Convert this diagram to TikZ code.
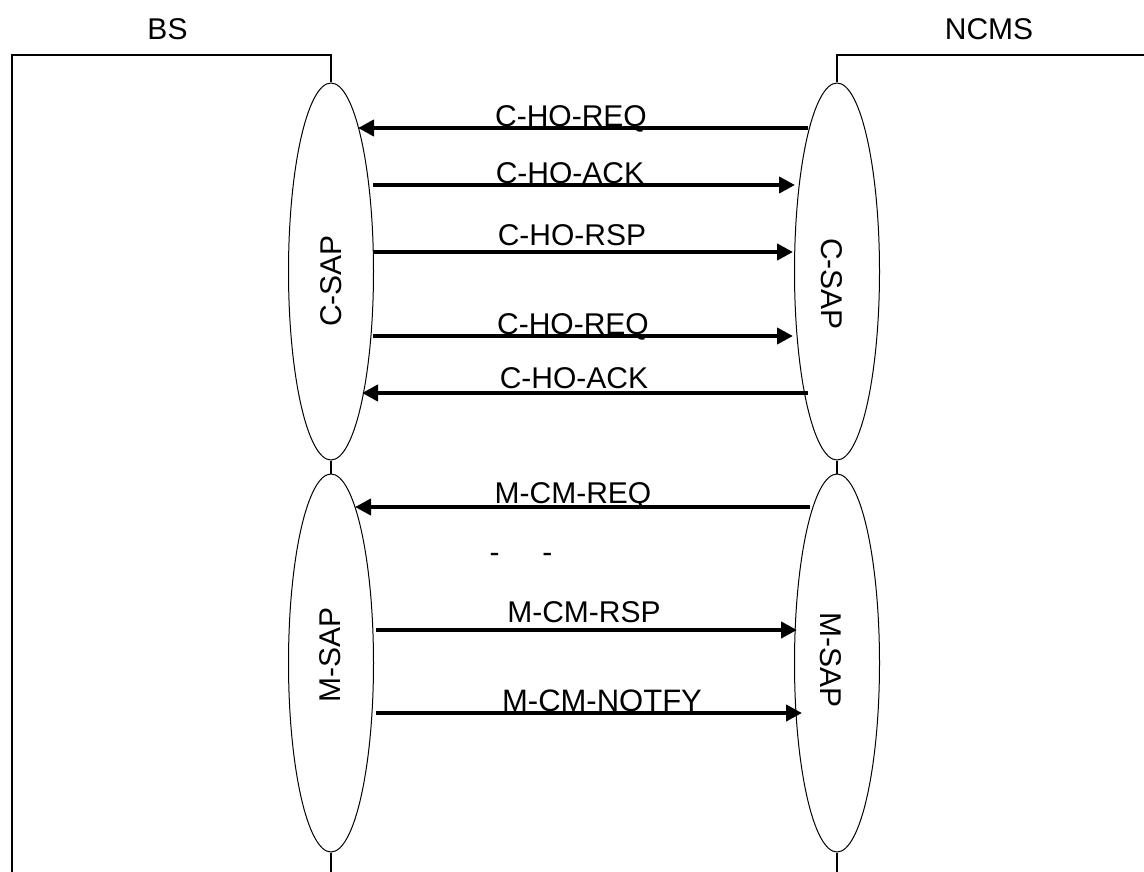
\documentclass[tikz,border=0pt]{standalone}
\usepackage{fontspec}
\setmainfont{Liberation Sans}
\usetikzlibrary{shapes.geometric,arrows.meta}
\begin{document}
\begin{tikzpicture}[x=1pt,y=-1pt,
  sap/.style={ellipse,draw,line width=1pt,minimum width=85pt,minimum height=377pt,inner sep=0pt},
  frame/.style={line width=1.3pt},
  msg/.style={line width=4pt,-{Triangle[length=16pt,width=16pt]}},
  lbl/.style={font=\fontsize{30}{36}\selectfont,inner sep=0pt,anchor=base},
  saplbl/.style={font=\fontsize{30}{36}\selectfont,inner sep=0pt},
  title/.style={font=\fontsize{30}{36}\selectfont,inner sep=0pt}]
\useasboundingbox (0,0) rectangle (1144,872);
% SAP ellipses
\node[sap] (cL) at (331,271.5) {};
\node[sap] (cR) at (837,271.5) {};
\node[sap,minimum height=378pt] (mL) at (331,663) {};
\node[sap,minimum height=378pt] (mR) at (837,663) {};
% rotated SAP labels
\node[saplbl,rotate=90] (cLt) at (331,281) {C-SAP};
\node[saplbl,rotate=-90] (cRt) at (832,284) {C-SAP};
\node[saplbl,rotate=90] (mLt) at (330,655) {M-SAP};
\node[saplbl,rotate=-90] (mRt) at (831,660) {M-SAP};
% titles
\node[title] (bs) at (167.5,29) {BS};
\node[title] (ncms) at (989,29) {NCMS};
% frames
\coordinate (bl) at (12,872);
\coordinate (tl) at (12,55);
\coordinate (tm) at (331,55);
\coordinate (tr) at (1144,55);
\coordinate (trm) at (837,55);
\draw[frame] (bl) -- (tl) -- (tm) -- (cL.north);
\draw[frame] (cL.south) -- (mL.north);
\draw[frame] (mL.south) -- (mL.south |- bl);
\draw[frame] (tr) -- (trm) -- (cR.north);
\draw[frame] (cR.south) -- (mR.north);
\draw[frame] (mR.south) -- (mR.south |- bl);
% message end points
\coordinate (a1s) at (808,128); \coordinate (a1e) at (358,128);
\coordinate (a2s) at (373,185); \coordinate (a2e) at (795,185);
\coordinate (a3s) at (373,252); \coordinate (a3e) at (793,252);
\coordinate (a4s) at (373,336); \coordinate (a4e) at (793,336);
\coordinate (a5s) at (808,393); \coordinate (a5e) at (362,393);
\coordinate (a6s) at (810,507); \coordinate (a6e) at (355,507);
\coordinate (a7s) at (376,630); \coordinate (a7e) at (797,630);
\coordinate (a8s) at (376,713); \coordinate (a8e) at (802,713);
\draw[msg] (a1s) -- (a1e);
\draw[msg] (a2s) -- (a2e);
\draw[msg] (a3s) -- (a3e);
\draw[msg] (a4s) -- (a4e);
\draw[msg] (a5s) -- (a5e);
\draw[msg] (a6s) -- (a6e);
\draw[msg] (a7s) -- (a7e);
\draw[msg] (a8s) -- (a8e);
% message labels
\node[lbl] (l1) at (571,127) {C-HO-REQ};
\node[lbl] (l2) at (570,183) {C-HO-ACK};
\node[lbl] (l3) at (572,245) {C-HO-RSP};
\node[lbl] (l4) at (573,334) {C-HO-REQ};
\node[lbl] (l5) at (574,388) {C-HO-ACK};
\node[lbl] (l6) at (573,503) {M-CM-REQ};
\node[lbl] (dd) at (521,562) {-\hspace{43pt}-};
\node[lbl] (l7) at (584,622) {M-CM-RSP};
\node[lbl,font=\fontsize{31}{36}\selectfont] (l8) at (602,711) {M-CM-NOTFY};
\end{tikzpicture}
\end{document}
